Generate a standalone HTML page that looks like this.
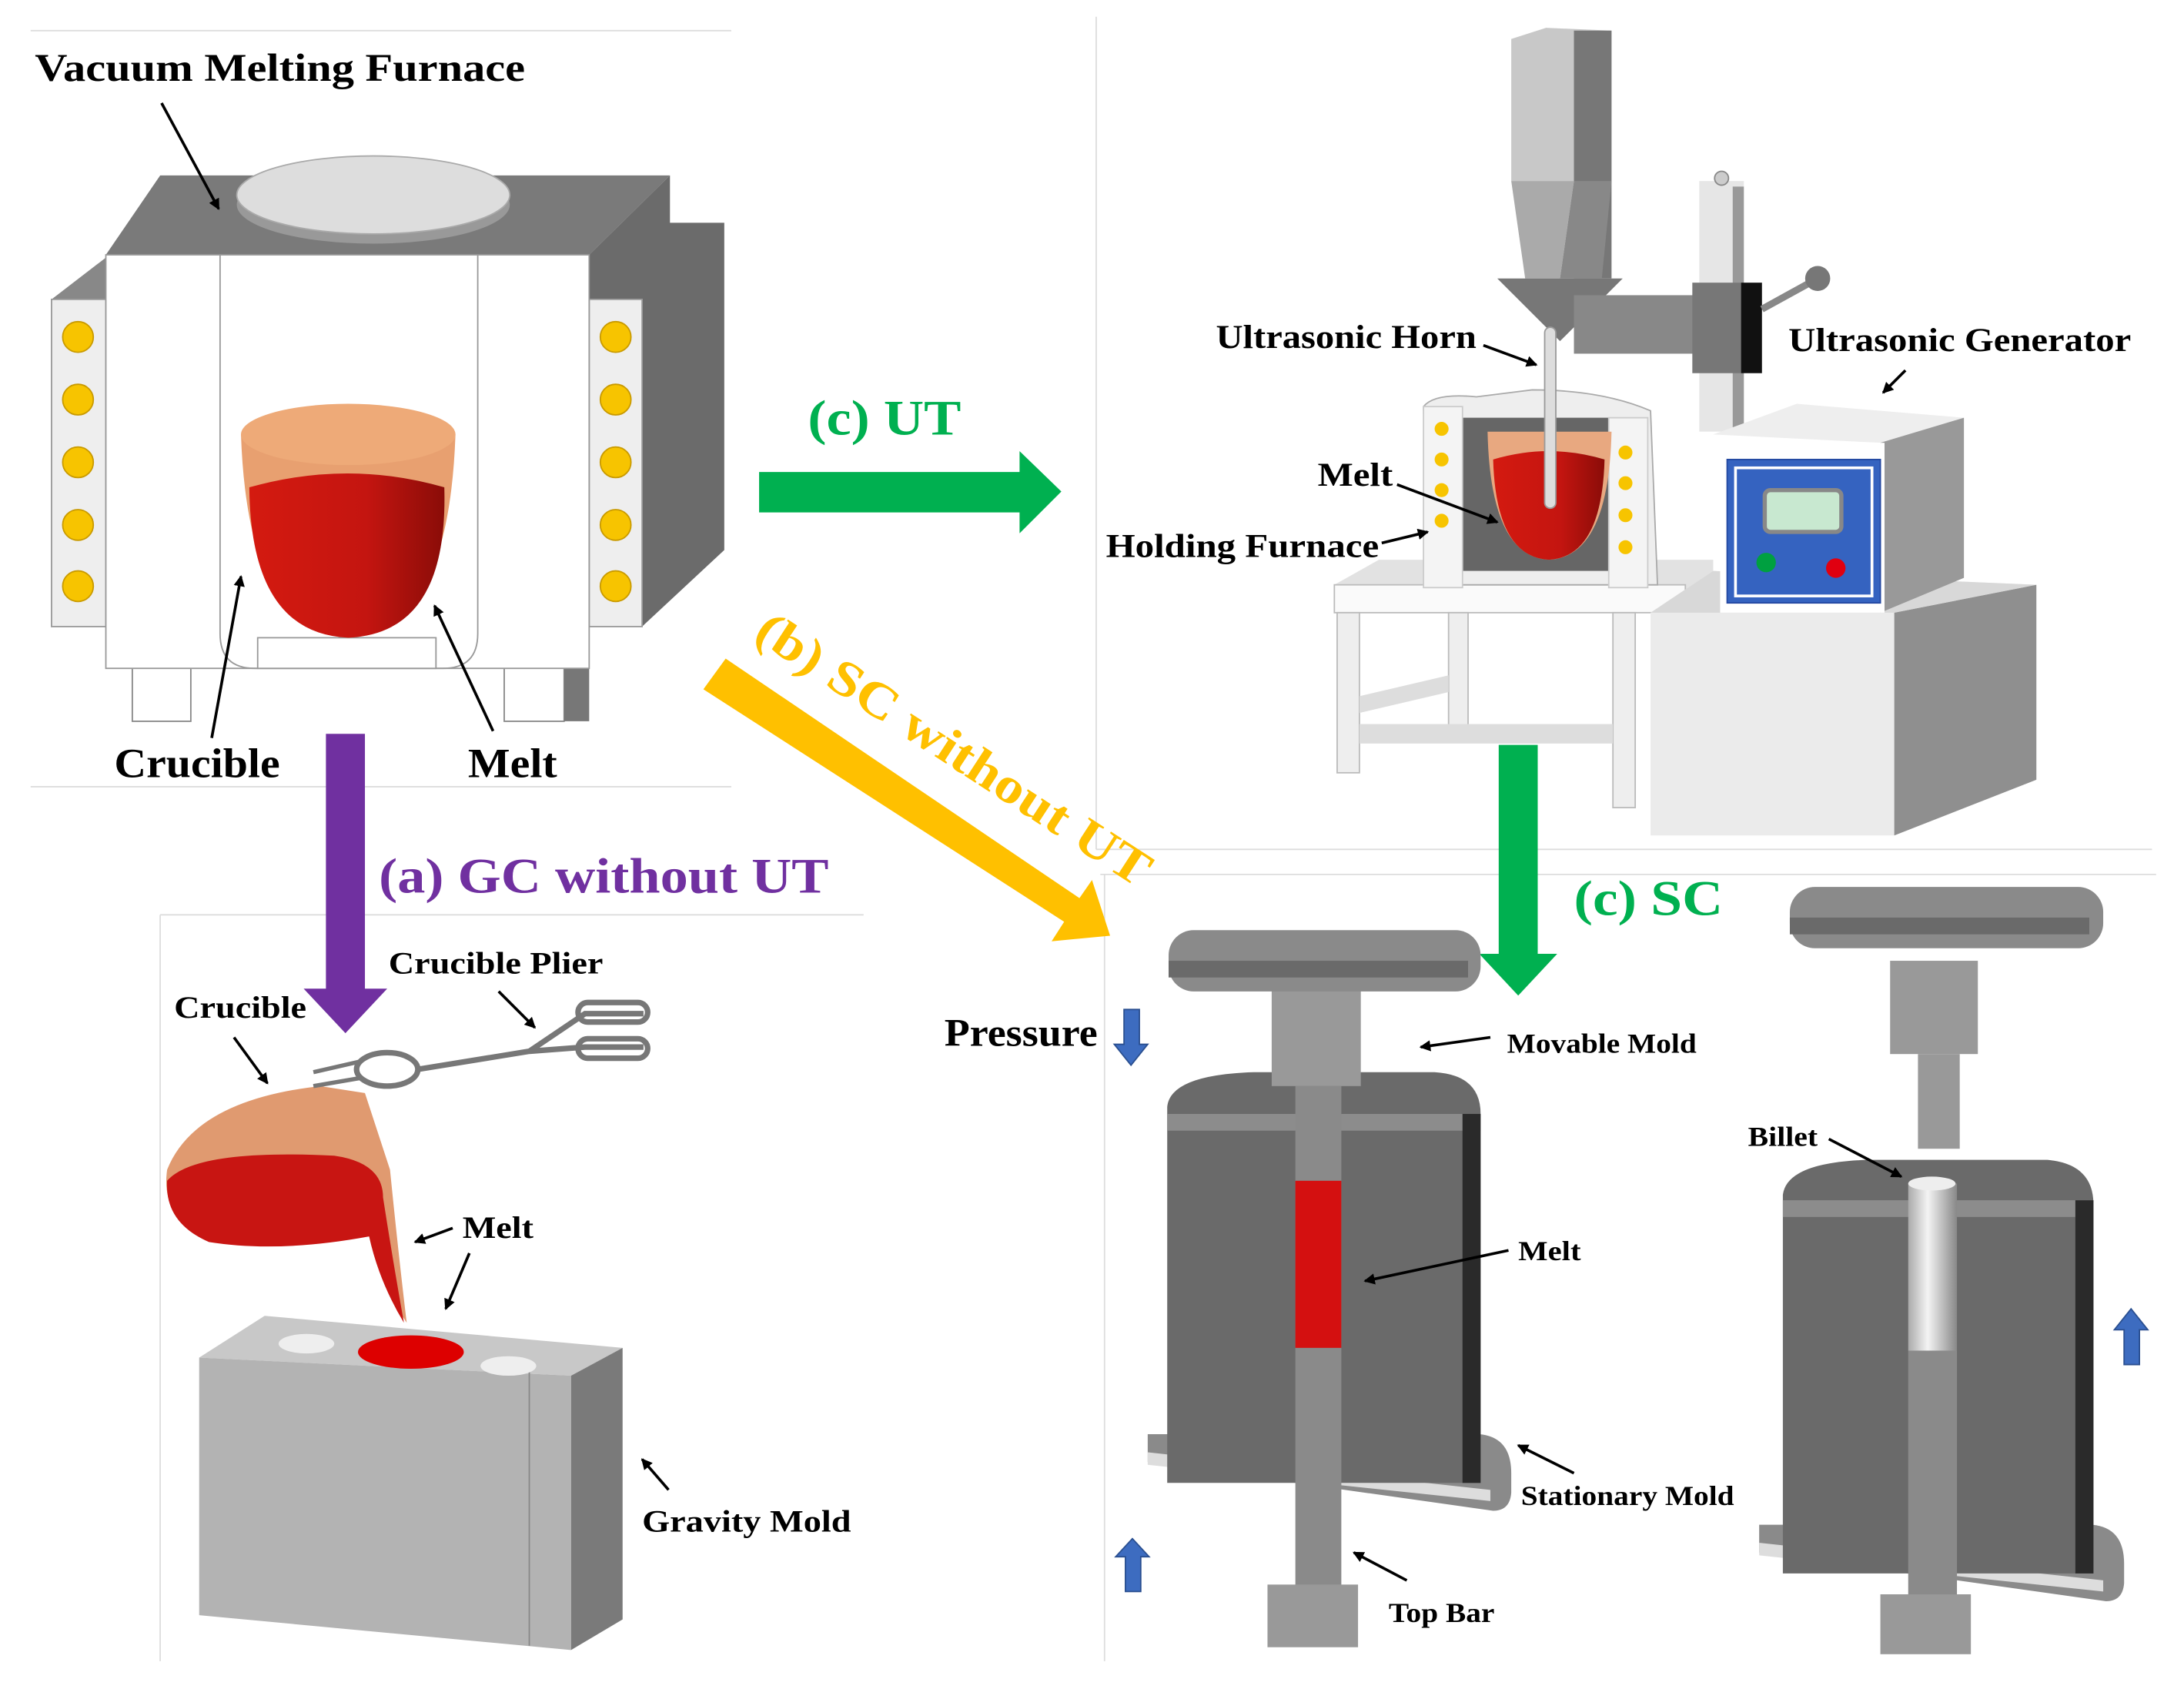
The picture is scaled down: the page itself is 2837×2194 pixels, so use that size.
<!DOCTYPE html>
<html><head><meta charset="utf-8"><style>
html,body{margin:0;padding:0;background:#fff;}
svg{display:block;}
text{font-family:"Liberation Serif",serif;font-weight:bold;}
</style></head><body>
<svg width="2837" height="2194" viewBox="0 0 1568 1213" preserveAspectRatio="none" xmlns="http://www.w3.org/2000/svg">
<defs>
<marker id="ah" markerWidth="8" markerHeight="8" refX="7" refY="4" orient="auto" markerUnits="userSpaceOnUse"><path d="M0,0 L8,4 L0,8 z" fill="#000"/></marker>
<linearGradient id="red" x1="0" x2="1"><stop offset="0" stop-color="#d41a10"/><stop offset="0.6" stop-color="#c41510"/><stop offset="1" stop-color="#8a0c08"/></linearGradient>
<linearGradient id="cyl" x1="0" x2="1"><stop offset="0" stop-color="#aaa"/><stop offset="0.4" stop-color="#f4f4f4"/><stop offset="1" stop-color="#888"/></linearGradient>
</defs>
<g stroke="#ddd" stroke-width="1" fill="none">
<line x1="22" y1="22" x2="525" y2="22"/><line x1="22" y1="565" x2="525" y2="565"/>
<line x1="787" y1="12" x2="787" y2="610"/><line x1="787" y1="610" x2="1545" y2="610"/>
<line x1="790" y1="628" x2="1548" y2="628"/><line x1="793" y1="628" x2="793" y2="1193"/>
<line x1="115" y1="657" x2="620" y2="657"/><line x1="115" y1="657" x2="115" y2="1193"/>
</g>

<!-- Furnace -->
<polygon points="76,183 115,126 481,126 423,183" fill="#7a7a7a"/>
<polygon points="423,183 481,126 481,160 520,160 520,395 461,450 423,450" fill="#6b6b6b"/>
<polygon points="37,215 76,185 76,215" fill="#888"/>
<rect x="37" y="215" width="39" height="235" fill="#eee" stroke="#999"/>
<rect x="423" y="215" width="38" height="235" fill="#eee" stroke="#999"/>
<g fill="#f7c400" stroke="#c99a00" stroke-width="1">
<circle cx="56" cy="242" r="11"/><circle cx="56" cy="287" r="11"/><circle cx="56" cy="332" r="11"/><circle cx="56" cy="377" r="11"/><circle cx="56" cy="421" r="11"/>
<circle cx="442" cy="242" r="11"/><circle cx="442" cy="287" r="11"/><circle cx="442" cy="332" r="11"/><circle cx="442" cy="377" r="11"/><circle cx="442" cy="421" r="11"/>
</g>
<rect x="95" y="478" width="42" height="40" fill="#fff" stroke="#888"/>
<rect x="362" y="478" width="43" height="40" fill="#fff" stroke="#888"/>
<polygon points="405,480 423,470 423,518 405,518" fill="#777"/>
<rect x="76" y="183" width="347" height="297" fill="#fff" stroke="#999"/>
<path d="M158,183 V455 Q158,480 183,480 H318 Q343,480 343,455 V183" fill="none" stroke="#999"/>
<rect x="185" y="458" width="128" height="22" fill="#fff" stroke="#999"/>
<ellipse cx="268" cy="147" rx="98" ry="28" fill="#999"/>
<ellipse cx="268" cy="140" rx="98" ry="28" fill="#ddd" stroke="#aaa"/>
<path d="M173,312 Q178,455 250,458 Q322,455 327,312 Z" fill="#e8a070"/>
<path d="M179,350 Q250,330 319,350 Q322,455 250,458 Q180,455 179,350 Z" fill="url(#red)"/>
<ellipse cx="250" cy="312" rx="77" ry="22" fill="#eeaa78"/>

<text x="25" y="58" font-size="28" textLength="352" lengthAdjust="spacingAndGlyphs">Vacuum Melting Furnace</text>
<line x1="116" y1="74" x2="157" y2="150" stroke="#000" stroke-width="2" marker-end="url(#ah)"/>
<text x="82" y="558" font-size="30" textLength="119" lengthAdjust="spacingAndGlyphs">Crucible</text>
<text x="336" y="558" font-size="30" textLength="64" lengthAdjust="spacingAndGlyphs">Melt</text>
<line x1="152" y1="530" x2="173" y2="414" stroke="#000" stroke-width="2" marker-end="url(#ah)"/>
<line x1="354" y1="525" x2="312" y2="435" stroke="#000" stroke-width="2" marker-end="url(#ah)"/>

<polygon points="234,527 262,527 262,710 278,710 248,742 218,710 234,710" fill="#7030a0"/>
<polygon points="545,339 732,339 732,324 762,353 732,383 732,368 545,368" fill="#00b050"/>
<polygon points="1076,535 1104,535 1104,685 1118,685 1090,715 1062,685 1076,685" fill="#00b050"/>
<polygon points="505,495 521,473 775,645 784,632 797,672 755,676 764,662" fill="#ffc000"/>
<text x="580" y="312" font-size="36" fill="#00b050" textLength="110" lengthAdjust="spacingAndGlyphs">(c) UT</text>
<text x="1130" y="657" font-size="36" fill="#00b050" textLength="107" lengthAdjust="spacingAndGlyphs">(c) SC</text>
<text x="272" y="641" font-size="36" fill="#7030a0" textLength="323" lengthAdjust="spacingAndGlyphs">(a) GC without UT</text>
<text transform="translate(540,458) rotate(33)" font-size="36" fill="#ffc000" textLength="330" lengthAdjust="spacingAndGlyphs">(b) SC without UT</text>

<!-- Ultrasonic machine -->
<polygon points="1085,28 1110,20 1157,22 1157,130 1085,130" fill="#c8c8c8"/>
<polygon points="1130,22 1157,22 1157,200 1130,200" fill="#777"/>
<polygon points="1085,130 1130,130 1120,200 1095,200" fill="#aaa"/>
<polygon points="1130,130 1157,130 1150,200 1120,200" fill="#888"/>
<polygon points="1075,200 1165,200 1120,245" fill="#777"/>
<rect x="1130" y="212" width="95" height="42" fill="#888"/>
<rect x="1220" y="130" width="32" height="180" fill="#e6e6e6"/>
<rect x="1244" y="134" width="8" height="176" fill="#999"/>
<circle cx="1236" cy="128" r="5" fill="#ccc" stroke="#888"/>
<rect x="1215" y="203" width="35" height="65" fill="#777"/>
<rect x="1250" y="203" width="15" height="65" fill="#111"/>
<line x1="1265" y1="222" x2="1305" y2="200" stroke="#888" stroke-width="5"/>
<circle cx="1305" cy="200" r="9" fill="#777"/>
<polygon points="958,420 990,402 1230,402 1230,420 1210,440 958,440" fill="#e2e2e2"/>
<rect x="958" y="420" width="252" height="20" fill="#fafafa" stroke="#bbb"/>
<rect x="960" y="440" width="16" height="115" fill="#eee" stroke="#bbb"/>
<rect x="1158" y="440" width="16" height="140" fill="#eee" stroke="#bbb"/>
<rect x="1040" y="440" width="14" height="90" fill="#eee" stroke="#bbb"/>
<polygon points="976,500 1040,485 1040,497 976,512" fill="#ddd"/>
<rect x="976" y="520" width="182" height="14" fill="#ddd"/>
<path d="M1022,292 Q1030,282 1060,285 L1100,280 Q1150,280 1185,295 L1190,420 L1025,420 Z" fill="#eee" stroke="#aaa"/>
<rect x="1045" y="300" width="125" height="110" fill="#666"/>
<rect x="1022" y="292" width="28" height="130" fill="#f4f4f4" stroke="#ccc"/>
<rect x="1155" y="300" width="28" height="122" fill="#f4f4f4" stroke="#ccc"/>
<g fill="#f7c400"><circle cx="1035" cy="308" r="5"/><circle cx="1035" cy="330" r="5"/><circle cx="1035" cy="352" r="5"/><circle cx="1035" cy="374" r="5"/><circle cx="1167" cy="325" r="5"/><circle cx="1167" cy="347" r="5"/><circle cx="1167" cy="370" r="5"/><circle cx="1167" cy="393" r="5"/></g>
<path d="M1068,310 Q1070,400 1112,402 Q1155,400 1157,310 Z" fill="#e8a880"/>
<path d="M1072,330 Q1112,318 1152,330 Q1150,400 1112,402 Q1074,400 1072,330 Z" fill="url(#red)"/>
<rect x="1109" y="235" width="8" height="130" rx="4" fill="#ddd" stroke="#999"/>
<polygon points="1185,440 1230,410 1462,420 1462,560 1360,600 1185,600" fill="#ebebeb"/>
<polygon points="1360,440 1462,420 1462,560 1360,600" fill="#8f8f8f"/>
<polygon points="1185,440 1230,410 1462,420 1360,440" fill="#d8d8d8"/>
<polygon points="1230,312 1290,290 1410,300 1350,318" fill="#eee"/>
<polygon points="1350,318 1410,300 1410,415 1350,440" fill="#999"/>
<rect x="1235" y="318" width="118" height="122" fill="#fff"/>
<rect x="1240" y="330" width="110" height="103" fill="#3563c0" stroke="#2247a0"/>
<rect x="1246" y="336" width="98" height="92" fill="none" stroke="#fff" stroke-width="2"/>
<rect x="1267" y="352" width="55" height="30" rx="4" fill="#c8e8d0" stroke="#888" stroke-width="3"/>
<circle cx="1268" cy="404" r="7" fill="#00a040"/><circle cx="1318" cy="408" r="7" fill="#e00010"/>

<text x="873" y="250" font-size="24" textLength="187" lengthAdjust="spacingAndGlyphs">Ultrasonic Horn</text>
<line x1="1065" y1="248" x2="1103" y2="262" stroke="#000" stroke-width="2" marker-end="url(#ah)"/>
<text x="1284" y="252" font-size="24" textLength="246" lengthAdjust="spacingAndGlyphs">Ultrasonic Generator</text>
<line x1="1368" y1="266" x2="1352" y2="282" stroke="#000" stroke-width="2" marker-end="url(#ah)"/>
<text x="946" y="349" font-size="24" textLength="54" lengthAdjust="spacingAndGlyphs">Melt</text>
<line x1="1003" y1="348" x2="1075" y2="375" stroke="#000" stroke-width="2" marker-end="url(#ah)"/>
<text x="794" y="400" font-size="24" textLength="196" lengthAdjust="spacingAndGlyphs">Holding Furnace</text>
<line x1="992" y1="390" x2="1025" y2="382" stroke="#000" stroke-width="2" marker-end="url(#ah)"/>

<!-- Gravity casting -->
<polygon points="143,975 190,945 447,968 410,988" fill="#c8c8c8"/>
<polygon points="143,975 410,988 410,1185 143,1160" fill="#b3b3b3"/>
<polygon points="410,988 447,968 447,1163 410,1185" fill="#7a7a7a"/>
<line x1="380" y1="985" x2="380" y2="1182" stroke="#888"/>
<ellipse cx="220" cy="965" rx="20" ry="7" fill="#eee"/>
<ellipse cx="365" cy="981" rx="20" ry="7" fill="#eee"/>
<ellipse cx="295" cy="971" rx="38" ry="12" fill="#d00"/>
<path d="M120,840 Q140,790 230,780 L262,785 L280,840 Q286,900 292,950 Q272,920 265,885 Q200,900 150,890 Q115,875 120,840 Z" fill="#e09a70"/>
<path d="M120,848 Q140,825 240,830 Q275,835 275,860 Q282,905 290,950 Q272,920 265,888 Q200,900 150,892 Q118,878 120,848 Z" fill="#c81512"/>
<path d="M225,770 L260,762 M225,780 L260,774" stroke="#777" stroke-width="3"/>
<ellipse cx="278" cy="768" rx="22" ry="12" fill="none" stroke="#777" stroke-width="4"/>
<path d="M300,768 L380,755 L420,728 L462,728 M380,755 L420,752 L462,752" fill="none" stroke="#777" stroke-width="4"/>
<rect x="415" y="720" width="50" height="14" rx="7" fill="none" stroke="#777" stroke-width="4"/>
<rect x="415" y="746" width="50" height="14" rx="7" fill="none" stroke="#777" stroke-width="4"/>
<text x="279" y="699" font-size="22" textLength="154" lengthAdjust="spacingAndGlyphs">Crucible Plier</text>
<line x1="358" y1="712" x2="384" y2="738" stroke="#000" stroke-width="2" marker-end="url(#ah)"/>
<text x="125" y="731" font-size="22" textLength="95" lengthAdjust="spacingAndGlyphs">Crucible</text>
<line x1="168" y1="745" x2="192" y2="778" stroke="#000" stroke-width="2" marker-end="url(#ah)"/>
<text x="332" y="889" font-size="22" textLength="51" lengthAdjust="spacingAndGlyphs">Melt</text>
<line x1="325" y1="882" x2="298" y2="892" stroke="#000" stroke-width="2" marker-end="url(#ah)"/>
<line x1="337" y1="900" x2="320" y2="940" stroke="#000" stroke-width="2" marker-end="url(#ah)"/>
<text x="461" y="1100" font-size="22" textLength="150" lengthAdjust="spacingAndGlyphs">Gravity Mold</text>
<line x1="480" y1="1070" x2="461" y2="1048" stroke="#000" stroke-width="2" marker-end="url(#ah)"/>

<!-- Squeeze mold 1 -->
<path d="M824,1030 H1062 Q1085,1032 1085,1058 V1072 Q1084,1085 1072,1085 L824,1050 Z" fill="#8a8a8a"/>
<polygon points="824,1043 1070,1070 1070,1078 824,1052" fill="#ddd"/>
<path d="M838,795 Q840,772 900,770 H1030 Q1063,772 1063,800 V1065 H838 Z" fill="#6a6a6a"/>
<rect x="838" y="800" width="225" height="12" fill="#8c8c8c"/>
<rect x="1050" y="800" width="13" height="265" fill="#2a2a2a"/>
<rect x="930" y="780" width="33" height="360" fill="#8a8a8a"/>
<rect x="930" y="848" width="33" height="120" fill="#d41010"/>
<rect x="910" y="1138" width="65" height="45" fill="#999"/>
<rect x="913" y="700" width="64" height="80" fill="#999"/>
<rect x="839" y="668" width="224" height="44" rx="18" fill="#8a8a8a"/>
<rect x="839" y="690" width="215" height="12" fill="#6a6a6a"/>
<!-- Squeeze mold 2 -->
<path d="M1263,1095 H1502 Q1525,1097 1525,1123 V1137 Q1524,1150 1512,1150 L1263,1115 Z" fill="#8a8a8a"/>
<polygon points="1263,1108 1510,1135 1510,1143 1263,1117" fill="#ddd"/>
<path d="M1280,858 Q1283,835 1340,833 H1470 Q1503,836 1503,865 V1130 H1280 Z" fill="#6a6a6a"/>
<rect x="1280" y="862" width="223" height="12" fill="#8c8c8c"/>
<rect x="1490" y="862" width="13" height="268" fill="#2a2a2a"/>
<rect x="1370" y="970" width="35" height="180" fill="#8a8a8a"/>
<rect x="1370" y="850" width="35" height="120" fill="url(#cyl)"/>
<ellipse cx="1387" cy="850" rx="17" ry="5" fill="#eee"/>
<rect x="1350" y="1145" width="65" height="43" fill="#999"/>
<rect x="1357" y="690" width="63" height="67" fill="#999"/>
<rect x="1377" y="757" width="30" height="68" fill="#999"/>
<rect x="1285" y="637" width="225" height="44" rx="18" fill="#8a8a8a"/>
<rect x="1285" y="659" width="215" height="12" fill="#6a6a6a"/>

<g fill="#3d6cc0" stroke="#2a4f90" stroke-width="1">
<polygon points="807,725 818,725 818,750 824,750 812,765 800,750 807,750"/>
<polygon points="808,1143 819,1143 819,1118 825,1118 813,1105 801,1118 808,1118"/>
<polygon points="1525,980 1536,980 1536,955 1542,955 1530,940 1518,955 1525,955"/>
</g>
<text x="678" y="751" font-size="28" textLength="110" lengthAdjust="spacingAndGlyphs">Pressure</text>
<text x="1082" y="756" font-size="20" textLength="136" lengthAdjust="spacingAndGlyphs">Movable Mold</text>
<line x1="1070" y1="745" x2="1020" y2="752" stroke="#000" stroke-width="2" marker-end="url(#ah)"/>
<text x="1090" y="905" font-size="20" textLength="45" lengthAdjust="spacingAndGlyphs">Melt</text>
<line x1="1083" y1="898" x2="980" y2="920" stroke="#000" stroke-width="2" marker-end="url(#ah)"/>
<text x="1092" y="1081" font-size="20" textLength="153" lengthAdjust="spacingAndGlyphs">Stationary Mold</text>
<line x1="1130" y1="1058" x2="1090" y2="1038" stroke="#000" stroke-width="2" marker-end="url(#ah)"/>
<text x="997" y="1165" font-size="20" textLength="76" lengthAdjust="spacingAndGlyphs">Top Bar</text>
<line x1="1010" y1="1135" x2="972" y2="1115" stroke="#000" stroke-width="2" marker-end="url(#ah)"/>
<text x="1255" y="823" font-size="20" textLength="50" lengthAdjust="spacingAndGlyphs">Billet</text>
<line x1="1313" y1="818" x2="1365" y2="845" stroke="#000" stroke-width="2" marker-end="url(#ah)"/>
</svg>
</body></html>
